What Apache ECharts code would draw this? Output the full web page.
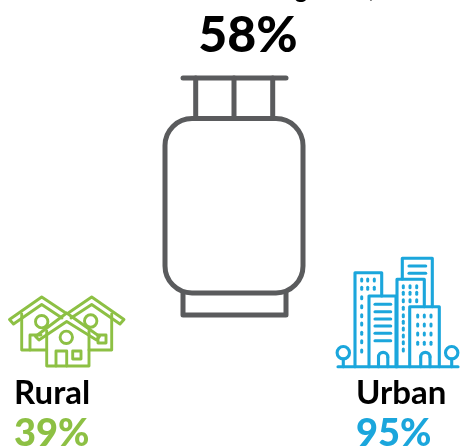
<!DOCTYPE html>
<html><head><meta charset="utf-8">
<style>html,body{margin:0;padding:0;background:#fff}#c{width:460px;height:448px}</style>
<script src="https://cdn.jsdelivr.net/npm/echarts@6/dist/echarts.min.js"></script>
</head><body><div id="c"></div>
<script>
var categories = ['Rural', 'Urban'];
var nationalValue = 58;
var categoryValues = [39, 95];
var GREY = '#5a5b5d', GREEN = '#8dc044', BLUE = '#1ba6dc', FONT = 'Lato';

var cylinderLines = [[[183,78],[286,78]], [[195.7,78],[195.7,118]], [[234,78],[234,118]], [[272.7,78],[272.7,118]], [[183,293],[183,315],[286,315],[286,293]]];
var cylinderBody = [165, 118.5, 138, 174.5, 27];

var ruralLines = [
  [[66.7,313],[99.5,336.5],[96.5,340],[66.7,321.5],[39,340],[35.5,336.5],[66.7,313]],
  [[46.7,331],[46.7,366],[89,366],[89,331]], [[56,366],[56,351],[66.7,351],[66.7,366]],
  [[72.7,351],[81,351],[81,359],[72.7,359],[72.7,351]],
  [[65,312.5],[41.7,297],[9.5,319.5],[13.5,324],[41.7,304.5],[62,318]],
  [[21.7,314],[21.7,350],[46.7,350]], [[30,350],[30,335],[41,335]],
  [[69,312.5],[91.7,297],[124,319.5],[120,324],[91.7,304.5],[71,318]],
  [[111.7,314],[111.7,350],[89,350]], [[98,335],[106,335],[106,343],[98,343],[98,335]]
];
var ruralCircles = [[66.3,337.3],[41.7,321.7],[90.7,321]];

var urbanLines = [
  [[338,366.7],[458,366.7]],
  [[355,366.7],[355,272.7],[381.7,272.7],[381.7,296]],
  [[369,366.7],[369,296],[396,296],[396,366.7]],
  [[402.3,279],[402.3,258.3],[432.3,258.3],[432.3,306.7]],
  [[397,366.7],[397,279.3],[424.3,279.3],[424.3,306.7]],
  [[409.7,366.7],[409.7,306.7],[439.3,306.7],[439.3,366.7]],
  [[375,304.3],[390.7,304.3]], [[375,311.7],[390.7,311.7]], [[375,319],[390.7,319]],
  [[375,326],[390.7,326]], [[375,333.3],[390.7,333.3]], [[375,340.7],[390.7,340.7]],
  [[409,266],[425.7,266]], [[409,273.3],[425.7,273.3]],
  [[378.5,366.7],[378.5,357]], [[387.8,366.7],[387.8,357]],
  [[420.7,366.7],[420.7,357]], [[430,366.7],[430,357]],
  [[343.3,359],[343.3,366.7]], [[451.7,359],[451.7,366.7]]
];
var urbanArches = [[383.15,357],[425.35,357]];
var urbanCircles = [[343.3,352.7],[451.7,352.7]];
var urbanDots = [];
[361.7,367.7,374.3].forEach(function (x) { [280,288.3].forEach(function (y) { urbanDots.push([x,y]); }); });
[297.7,306.7,315.7,324,333.3,341.7,351].forEach(function (y) { urbanDots.push([361.7,y]); });
[403.3,410,416.7].forEach(function (x) { [286.7,293.3,300.7].forEach(function (y) { urbanDots.push([x,y]); }); });
[308.3,315.7,322.3,329,336,342.7,350].forEach(function (y) { urbanDots.push([403.3,y]); });
[417.7,424.3,431].forEach(function (x) { [316,325,334,343.3].forEach(function (y) { urbanDots.push([x,y]); }); });

function stroke(color, w) { return { fill: 'none', stroke: color, lineWidth: w, lineCap: 'round', lineJoin: 'round' }; }
function polyEl(p, color, w) { return { type: 'polyline', shape: { points: p }, style: stroke(color, w) }; }
function circleEl(c, r, color, w) { return { type: 'circle', shape: { cx: c[0], cy: c[1], r: r }, style: stroke(color, w) }; }
function textEl(t, x, y, size, color, align, weight) {
  return { type: 'text', x: x, y: y, style: { text: t, fill: color, font: (weight || 'bold') + ' ' + size + 'px ' + FONT, textAlign: align || 'left', textVerticalAlign: 'middle' } };
}

var els = [];
els.push(textEl('g', 301, -10, 24, '#000', 'center'));
els.push(textEl(')', 372, -11, 24, '#000', 'center'));
els.push(textEl(nationalValue + '%', 248, 36, 50, '#000', 'center', 900));
cylinderLines.forEach(function (p) { els.push(polyEl(p, GREY, 5)); });
els.push({ type: 'rect', shape: { x: cylinderBody[0], y: cylinderBody[1], width: cylinderBody[2], height: cylinderBody[3], r: cylinderBody[4] }, style: stroke(GREY, 5) });
ruralLines.forEach(function (p) { els.push(polyEl(p, GREEN, 2.9)); });
ruralCircles.forEach(function (c) { els.push(circleEl(c, 6.2, GREEN, 2.9)); });
urbanLines.forEach(function (p) { els.push(polyEl(p, BLUE, 3.1)); });
urbanArches.forEach(function (a) { els.push({ type: 'arc', shape: { cx: a[0], cy: a[1], r: 4.65, startAngle: Math.PI, endAngle: 2 * Math.PI }, style: stroke(BLUE, 3.1) }); });
urbanCircles.forEach(function (c) { els.push(circleEl(c, 6.2, BLUE, 3.1)); });
urbanDots.forEach(function (p) { els.push(polyEl([[p[0], p[1] - 1], [p[0], p[1] + 1]], BLUE, 3)); });
els.push(textEl(categories[0], 14, 393, 33, '#000'));
els.push(textEl(categoryValues[0] + '%', 14, 434, 38, GREEN, 'left', 900));
els.push(textEl(categories[1], 356, 393, 33, '#000'));
els.push(textEl(categoryValues[1] + '%', 356, 434, 38, BLUE, 'left', 900));

var chart = echarts.init(document.getElementById('c'), null, { renderer: 'canvas' });
chart.setOption({ animation: false, backgroundColor: '#fff', graphic: { elements: els } });
</script></body></html>
